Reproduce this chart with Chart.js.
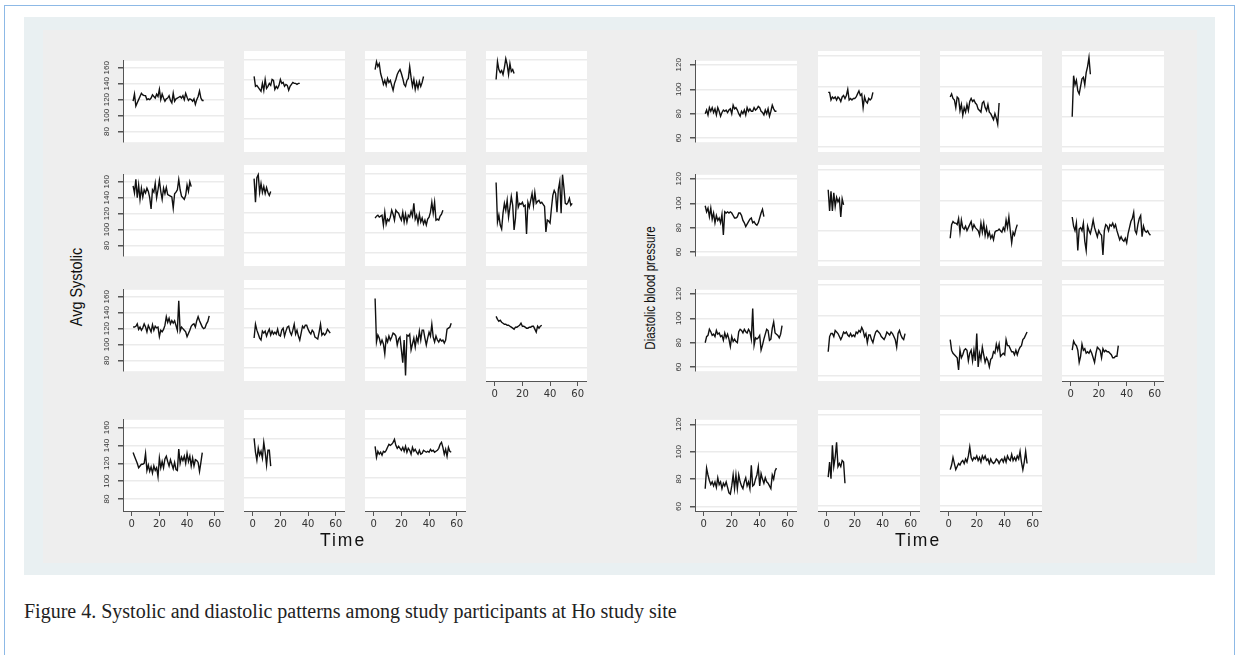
<!DOCTYPE html>
<html>
<head>
<meta charset="utf-8">
<script src="https://cdn.jsdelivr.net/npm/chart.js"></script>
<style>
  html, body { margin: 0; padding: 0; background: #fff; width: 1238px; height: 655px; overflow: hidden; }
  #frame { position: absolute; left: 4px; top: 5px; width: 1229px; height: 700px; border: 1px solid #8db9e6; }
  #outer { position: absolute; left: 24px; top: 17px; width: 1191px; height: 558px; background: #e9f0f2; }
  #inner { position: absolute; left: 43px; top: 30px; width: 1154px; height: 533px; background: #eeeeee; }
  .panel { position: absolute; }
  .ytitle { position: absolute; white-space: nowrap; color: #111; line-height: 1;
            font-family: 'Liberation Sans', Arial, sans-serif; }
  .xtitle { position: absolute; white-space: nowrap; color: #111; transform: translate(-50%, -50%);
            font-family: 'Liberation Sans', Arial, sans-serif; font-size: 17.5px; letter-spacing: 2px; }
  #caption { position: absolute; left: 24px; top: 601px; font-family: 'Liberation Serif', 'Times New Roman', serif;
             font-size: 20px; line-height: 20px; color: #222; white-space: nowrap; }
</style>
</head>
<body>
<div id="frame"></div>
<div id="outer"></div>
<div id="inner"></div>
<div id="panels"></div>
<div class="ytitle" style="left:76px; top:287px; font-size:17px; transform: translate(-50%, -50%) rotate(-90deg) scaleX(0.85);">Avg Systolic</div>
<div class="ytitle" style="left:650px; top:288px; font-size:14px; transform: translate(-50%, -50%) rotate(-90deg) scaleX(0.825);">Diastolic blood pressure</div>
<div class="xtitle" style="left:343px; top:540px;">Time</div>
<div class="xtitle" style="left:918px; top:540px;">Time</div>
<div id="caption">Figure 4. Systolic and diastolic patterns among study participants at Ho study site</div>

<script>
// Тики осей
const timeTicks = [0, 20, 40, 60];
const sysTicks = [80, 100, 120, 140, 160];
const diaTicks = [60, 80, 100, 120];

// Систолічний тиск (Avg Systolic), панелі по рядках
const sys01 = [118, 127, 112, 116, 120, 124, 128, 126, 125, 125, 120, 121, 120, 122, 126, 124, 122, 127, 124, 133, 120, 127, 122, 118, 121, 122, 125, 119, 116, 128, 118, 121, 122, 123, 124, 122, 125, 120, 128, 123, 119, 121, 120, 118, 121, 114, 120, 124, 131, 122, 119, 119];
const sys02 = [143, 133, 134, 132, 130, 128, 136, 129, 140, 131, 133, 136, 134, 140, 139, 130, 133, 131, 134, 140, 136, 137, 133, 135, 134, 129, 133, 135, 137, 136, 136, 135, 136, 136];
const sys03 = [150, 158, 153, 156, 146, 141, 135, 139, 134, 141, 137, 139, 134, 129, 136, 140, 145, 148, 150, 146, 141, 135, 133, 139, 141, 153, 142, 133, 140, 130, 137, 131, 138, 133, 137, 143];
const sys04 = [140, 158, 150, 147, 149, 145, 152, 161, 155, 145, 156, 148, 150, 146];
const sys05 = [155, 146, 163, 140, 156, 138, 152, 141, 150, 146, 152, 148, 140, 126, 150, 147, 158, 140, 150, 162, 148, 138, 152, 145, 153, 144, 143, 142, 141, 127, 145, 147, 150, 163, 150, 142, 140, 138, 143, 156, 148, 160, 154];
const sys06 = [155, 131, 156, 159, 141, 150, 141, 147, 140, 146, 141, 138, 142];
const sys07 = [115, 117, 118, 116, 117, 118, 108, 121, 109, 114, 112, 116, 123, 119, 113, 123, 121, 120, 116, 113, 121, 111, 119, 111, 118, 116, 122, 117, 130, 114, 118, 110, 119, 111, 115, 109, 113, 108, 114, 116, 121, 131, 120, 131, 113, 114, 113, 117, 119, 123];
const sys08 = [151, 111, 118, 108, 104, 120, 130, 123, 133, 116, 126, 137, 128, 103, 115, 142, 126, 130, 129, 131, 127, 128, 99, 131, 126, 133, 140, 128, 141, 130, 132, 133, 130, 131, 129, 127, 101, 113, 112, 110, 125, 138, 143, 140, 121, 144, 152, 120, 159, 146, 130, 129, 131, 135, 128, 130];
const sys09 = [122, 122, 123, 126, 119, 122, 118, 121, 126, 122, 116, 124, 120, 116, 125, 118, 123, 121, 122, 110, 118, 116, 119, 124, 135, 128, 133, 126, 130, 127, 130, 124, 118, 155, 117, 122, 120, 118, 116, 110, 114, 118, 123, 125, 126, 122, 130, 135, 130, 126, 122, 120, 121, 126, 129, 136];
const sys10 = [110, 124, 118, 114, 110, 108, 117, 115, 117, 112, 116, 119, 113, 117, 114, 116, 114, 119, 113, 112, 118, 120, 112, 117, 121, 122, 116, 113, 118, 124, 114, 118, 112, 108, 115, 122, 120, 123, 123, 119, 116, 114, 118, 116, 111, 110, 109, 116, 124, 113, 115, 113, 115, 119, 117, 115];
const sys11 = [150, 106, 113, 110, 104, 108, 104, 94, 110, 106, 112, 108, 111, 115, 114, 112, 103, 109, 111, 98, 85, 108, 72, 113, 112, 114, 98, 104, 110, 101, 111, 106, 117, 108, 118, 118, 110, 103, 110, 116, 112, 124, 111, 106, 112, 108, 106, 109, 107, 108, 105, 108, 119, 120, 121, 125];
const sys12 = [132, 129, 127, 128, 126, 125, 124, 124, 123, 123, 122, 121, 120, 119, 121, 121, 122, 123, 125, 122, 122, 121, 120, 120, 121, 121, 122, 122, 119, 116, 122, 120, 122, 123];
const sys13 = [132, 128, 124, 120, 115, 117, 119, 119, 120, 131, 112, 118, 111, 116, 109, 117, 112, 115, 105, 126, 115, 122, 115, 125, 128, 122, 117, 124, 119, 114, 121, 113, 112, 136, 120, 127, 123, 128, 120, 131, 122, 128, 117, 126, 117, 124, 123, 121, 111, 121, 132];
const sys14 = [140, 126, 118, 130, 123, 127, 120, 136, 126, 113, 128, 128, 112];
const sys15 = [132, 121, 127, 124, 126, 123, 127, 126, 128, 131, 134, 133, 134, 136, 139, 133, 130, 132, 130, 128, 131, 127, 132, 126, 130, 128, 124, 131, 127, 129, 126, 124, 128, 124, 125, 128, 127, 126, 127, 126, 129, 127, 128, 126, 127, 128, 130, 134, 136, 131, 124, 129, 122, 131, 127, 126];

// Діастолічний тиск, панелі по рядках
const dia01 = [80, 83, 79, 85, 82, 85, 81, 84, 79, 85, 82, 78, 81, 83, 82, 83, 81, 83, 84, 80, 87, 84, 85, 83, 80, 78, 82, 80, 83, 79, 85, 82, 84, 82, 82, 85, 83, 84, 86, 85, 82, 81, 79, 83, 80, 84, 78, 82, 87, 84, 82, 82];
const dia02 = [96, 96, 91, 93, 92, 93, 91, 93, 92, 90, 93, 94, 92, 94, 98, 91, 92, 91, 92, 92, 93, 95, 97, 94, 95, 86, 93, 90, 89, 92, 91, 92, 96];
const dia03 = [93, 95, 92, 91, 86, 93, 92, 84, 88, 81, 86, 83, 88, 84, 90, 92, 90, 91, 89, 88, 85, 84, 83, 89, 90, 86, 84, 88, 83, 82, 80, 78, 82, 79, 75, 89];
const dia04 = [80, 107, 101, 104, 97, 95, 100, 105, 106, 101, 109, 113, 119, 108];
const dia05 = [98, 93, 96, 89, 96, 87, 92, 84, 90, 86, 88, 84, 91, 74, 93, 92, 93, 92, 93, 92, 90, 88, 88, 89, 92, 92, 90, 86, 84, 81, 83, 85, 87, 88, 84, 85, 83, 82, 84, 88, 92, 95, 89];
const dia06 = [107, 93, 106, 93, 105, 96, 102, 99, 101, 89, 101, 97];
const dia07 = [75, 84, 86, 85, 85, 84, 88, 79, 87, 82, 81, 83, 80, 82, 84, 86, 81, 84, 82, 81, 80, 77, 85, 79, 85, 77, 82, 76, 79, 75, 77, 74, 79, 80, 80, 81, 80, 79, 82, 80, 87, 82, 89, 80, 72, 79, 77, 81, 84];
const dia08 = [89, 83, 80, 85, 67, 81, 82, 80, 85, 73, 67, 83, 80, 78, 82, 87, 82, 79, 76, 80, 78, 77, 64, 80, 84, 83, 80, 84, 83, 85, 82, 84, 80, 77, 74, 76, 74, 73, 75, 72, 78, 82, 86, 88, 92, 80, 78, 84, 88, 90, 76, 83, 80, 79, 80, 78, 77];
const dia09 = [80, 85, 86, 91, 89, 86, 87, 85, 90, 87, 88, 85, 86, 82, 88, 84, 87, 83, 77, 85, 81, 83, 81, 80, 89, 91, 90, 88, 91, 89, 88, 91, 89, 83, 108, 78, 84, 83, 84, 86, 74, 78, 83, 87, 91, 90, 82, 83, 92, 97, 88, 87, 86, 84, 87, 94];
const dia10 = [76, 86, 88, 88, 86, 90, 89, 88, 86, 84, 86, 89, 88, 89, 87, 86, 88, 86, 87, 86, 89, 88, 90, 89, 92, 90, 86, 88, 82, 87, 87, 84, 82, 86, 89, 90, 89, 88, 86, 85, 84, 86, 89, 88, 87, 89, 88, 86, 84, 79, 88, 90, 87, 85, 84, 88];
const dia11 = [84, 77, 75, 74, 73, 72, 64, 77, 72, 74, 77, 78, 77, 70, 75, 77, 70, 77, 70, 88, 66, 75, 71, 79, 74, 69, 72, 70, 66, 71, 72, 76, 75, 81, 77, 81, 73, 74, 75, 74, 84, 80, 80, 78, 76, 76, 74, 77, 74, 77, 79, 80, 84, 85, 87, 89];
const dia12 = [77, 83, 81, 80, 77, 69, 73, 81, 77, 78, 75, 76, 75, 77, 75, 72, 69, 75, 79, 78, 77, 72, 78, 76, 77, 76, 76, 75, 74, 72, 72, 73, 73, 80];
const dia13 = [73, 88, 83, 79, 76, 78, 75, 78, 74, 81, 76, 78, 73, 77, 75, 78, 74, 70, 69, 75, 83, 73, 83, 73, 83, 78, 75, 73, 78, 81, 75, 78, 73, 90, 75, 76, 80, 83, 89, 75, 84, 80, 77, 81, 78, 77, 75, 73, 83, 80, 86, 88];
const dia14 = [79, 89, 78, 100, 86, 92, 102, 86, 88, 86, 90, 89, 75];
const dia15 = [84, 87, 92, 88, 84, 86, 88, 87, 89, 90, 88, 91, 89, 93, 99, 92, 90, 92, 91, 93, 90, 92, 89, 93, 91, 93, 90, 91, 88, 91, 89, 88, 89, 91, 90, 88, 90, 91, 89, 92, 89, 93, 91, 90, 94, 90, 92, 90, 93, 91, 96, 89, 84, 89, 96, 88];

const sysSeries = [sys01, sys02, sys03, sys04, sys05, sys06, sys07, sys08, sys09, sys10, sys11, sys12, sys13, sys14, sys15];
const diaSeries = [dia01, dia02, dia03, dia04, dia05, dia06, dia07, dia08, dia09, dia10, dia11, dia12, dia13, dia14, dia15];

// Розкладка панелей (пікселі області побудови)
const rowTop = [51, 165, 280, 410];
const plotH = 101;
const tickFont = "'Liberation Sans', Arial, sans-serif";
const wideFont = "'DejaVu Sans', 'Liberation Sans', sans-serif";

// Білий фон області побудови
const whiteBg = {
    id: 'whiteBg',
    beforeDraw(chart) {
        const a = chart.chartArea;
        chart.ctx.save();
        chart.ctx.fillStyle = '#ffffff';
        chart.ctx.fillRect(a.left, a.top, a.width, a.height);
        chart.ctx.restore();
    }
};

function makePanel(values, left, top, width, yTicks, yMin, yMax, showY, showX) {
    const padL = showY ? 30 : 0;
    const padB = showX ? 24 : 0;
    const box = document.createElement('div');
    box.className = 'panel';
    box.style.left = (left - padL) + 'px';
    box.style.top = top + 'px';
    box.style.width = (width + padL) + 'px';
    box.style.height = (plotH + padB) + 'px';
    const canvas = document.createElement('canvas');
    box.appendChild(canvas);
    document.getElementById('panels').appendChild(box);

    new Chart(canvas, {
        type: 'line',
        data: {
            datasets: [{
                data: values.map((v, i) => ({ x: i + 1, y: v })),
                borderColor: '#111111',
                borderWidth: 1.4,
                pointRadius: 0,
                tension: 0,
                fill: false
            }]
        },
        options: {
            responsive: true,
            maintainAspectRatio: false,
            animation: false,
            events: [],
            layout: { padding: 0, autoPadding: false },
            plugins: { legend: { display: false }, tooltip: { enabled: false } },
            scales: {
                x: {
                    type: 'linear',
                    min: -6.3,
                    max: 66.7,
                    display: showX,
                    afterBuildTicks: s => { s.ticks = timeTicks.map(v => ({ value: v })); },
                    afterFit: s => { s.height = padB; },
                    grid: { drawOnChartArea: false, tickLength: 5, tickColor: '#555', color: '#555' },
                    border: { color: '#555', width: 1 },
                    ticks: { font: { family: wideFont, size: 10 }, color: '#333', padding: 2, maxRotation: 0, autoSkip: false }
                },
                y: {
                    type: 'linear',
                    min: yMin,
                    max: yMax,
                    afterBuildTicks: s => { s.ticks = yTicks.map(v => ({ value: v })); },
                    afterFit: s => { s.width = padL; },
                    grid: { color: '#ebebeb', lineWidth: 1.5, drawTicks: showY, tickLength: 5, tickColor: '#555' },
                    border: { display: showY, color: '#555', width: 1 },
                    ticks: {
                        display: showY, minRotation: 90, maxRotation: 90, crossAlign: 'center',
                        padding: 5, autoSkip: false, font: { family: tickFont, size: 8 }, color: '#333'
                    }
                }
            }
        },
        plugins: [whiteBg]
    });
}

function makeGrid(series, colLeft, width, yTicks, yMin, yMax) {
    series.forEach((vals, k) => {
        const r = Math.floor(k / 4), c = k % 4;
        const showX = (r === 3) || (r === 2 && c === 3);
        makePanel(vals, colLeft[c], rowTop[r], width, yTicks, yMin, yMax, c === 0, showX);
    });
}

makeGrid(sysSeries, [123, 244, 365, 486], 101, sysTicks, 66.5, 168.8);
makeGrid(diaSeries, [695, 818, 940, 1062], 102, diaTicks, 56.7, 123.3);
</script>
</body>
</html>
